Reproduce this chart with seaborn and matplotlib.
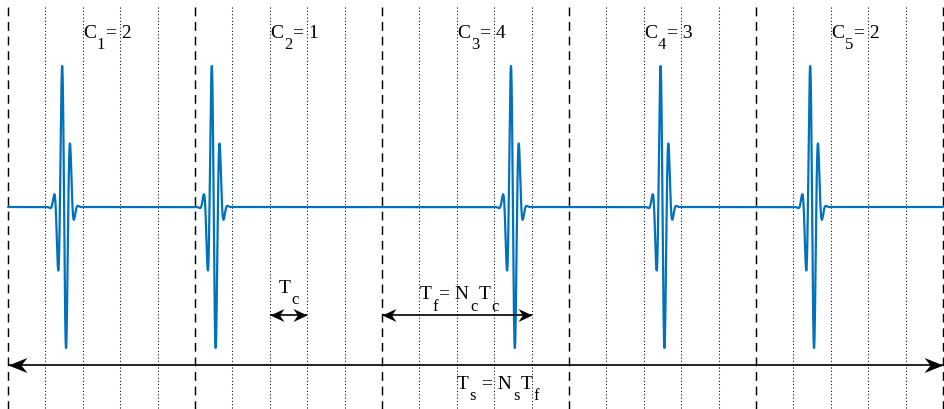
import numpy as np
import pandas as pd
import matplotlib
matplotlib.use("Agg")
import matplotlib.pyplot as plt
import seaborn as sns
from matplotlib.path import Path
from matplotlib.transforms import offset_copy

# Time-hopping structure: Ns frames, each split into Nc chips
n_frames = 5
n_chips = 5
hop_code = [2, 1, 4, 3, 2]          # chip occupied in each frame (1-based)

# Gaussian-enveloped monocycle, in chip units
pulse_period = 0.225
pulse_width = 0.171

frame_labels = [("C", "%d" % (k + 1), "= %d" % c) for k, c in enumerate(hop_code)]

sns.set_theme(style="white")
plt.rcParams["font.family"] = ["Liberation Serif", "DejaVu Serif"]

PX_X = 37.4      # pixels per chip
X0 = 8.0         # left edge of the time axis, pixels
PX_Y = 141.0     # pixels per unit amplitude
Y0 = 208.0       # baseline, pixels from the top
W, H = 945, 410


def xd(px):
    return (px - X0) / PX_X


def yd(py):
    return (Y0 - py) / PX_Y


fig = plt.figure(figsize=(W / 100, H / 100), dpi=100)
ax = fig.add_axes([0, 0, 1, 1])
ax.set_xlim(xd(0), xd(W))
ax.set_ylim(yd(H), yd(0))
ax.axis("off")

# chip and frame grid
total = n_frames * n_chips
for i in range(total + 1):
    if i % n_chips == 0:
        ax.plot([i, i], [yd(8), yd(H + 5)], color="black", lw=1.05,
                linestyle=(0, (6.0, 4.0)), zorder=1)
    else:
        ax.plot([i, i], [yd(8), yd(H + 5)], color="black", lw=0.75,
                linestyle=(0, (1, 2.2)), zorder=1)


# pulse train
def monocycle(t):
    return -np.sin(2 * np.pi * t / pulse_period) * np.exp(-(t / pulse_width) ** 2)


tt = np.linspace(-1, 1, 4001)
peak = np.max(monocycle(tt))
t = np.linspace(0, total, 40001)
centers = [f * n_chips + (c - 1) + 0.5 for f, c in enumerate(hop_code)]
signal = sum(monocycle(t - c) for c in centers) / peak
df = pd.DataFrame({"t": t, "signal": signal})
sns.lineplot(data=df, x="t", y="signal", ax=ax, color="#0072BD", lw=1.6,
             estimator=None, sort=False, zorder=3)
ax.set_xlabel("")
ax.set_ylabel("")


# double-headed arrows with stealth heads
def head(direction, ratio):
    s = direction
    verts = [(0, 0), (-s * 1.0, ratio / 2), (-s * 0.68, 0), (-s * 1.0, -ratio / 2), (0, 0)]
    codes = [Path.MOVETO, Path.LINETO, Path.LINETO, Path.LINETO, Path.CLOSEPOLY]
    return Path(verts, codes)


def span_arrow(x0, x1, y, length_px, width_px, color="black", lw=1.2):
    ax.plot([x0, x1], [y, y], color=color, lw=lw, zorder=4, solid_capstyle="butt")
    ms = 2 * length_px * 72 / 100
    ratio = width_px / length_px
    ax.plot([x0], [y], marker=head(-1, ratio), ms=ms, color=color, mew=0, zorder=5)
    ax.plot([x1], [y], marker=head(1, ratio), ms=ms, color=color, mew=0, zorder=5)


# text with subscripts, laid out piece by piece
renderer = fig.canvas.get_renderer()


def rich_text(x, y, parts, align="left", size=14, sub_size=12, sub_drop=8.0):
    items = []
    for s, sub in parts:
        txt = ax.text(x, y, s, fontsize=sub_size if sub else size, ha="left",
                      va="baseline", color="black", zorder=6)
        w = txt.get_window_extent(renderer).width
        items.append((txt, sub, w))
    width = sum(w for _, _, w in items)
    dx = -width / 2 if align == "center" else 0.0
    for txt, sub, w in items:
        dy = -sub_drop * fig.dpi / 72 if sub else 0.0
        txt.set_transform(offset_copy(ax.transData, fig=fig, x=dx, y=dy, units="dots"))
        dx += w + 1.0


for k, (c, sub, rest) in enumerate(frame_labels):
    rich_text(k * n_chips + 2, yd(37.7), [(c, False), (sub, True), (rest, False)])

# chip duration
span_arrow(7, 8, yd(316), 14, 13)
rich_text(7.5, yd(293), [("T", False), ("c", True)], align="center")

# frame duration
span_arrow(10, 14, yd(316), 14, 13)
rich_text(12, yd(299.5), [("T", False), ("f", True), ("= N", False), ("c", True),
                          ("T", False), ("c", True)], align="center")

# symbol duration
span_arrow(0, total, yd(366), 19, 15)
rich_text(12.0, yd(389), [("T", False), ("s", True), (" = N", False), ("s", True),
                          ("T", False), ("f", True)], align="left")

fig.savefig("out.png", dpi=100)
